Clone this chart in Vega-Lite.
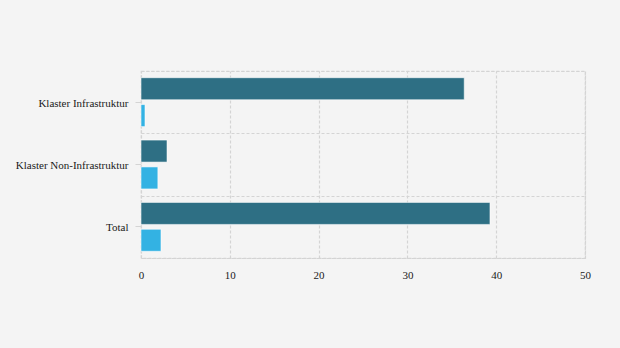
{
  "$schema": "https://vega.github.io/schema/vega-lite/v6.json",
  "width": 444,
  "height": 187,
  "autosize": {"type": "none"},
  "padding": {"left": 141, "top": 71, "right": 35, "bottom": 90},
  "background": "#f4f4f4",
  "config": {
    "view": {"stroke": "#d4d4d4", "strokeDash": [3, 2], "strokeWidth": 1.2},
    "font": "Liberation Serif"
  },
  "data": {
    "values": [
      {"kategori": "Klaster Infrastruktur", "seri": "Seri 1", "nilai": 36.4},
      {"kategori": "Klaster Infrastruktur", "seri": "Seri 2", "nilai": 0.45},
      {"kategori": "Klaster Non-Infrastruktur", "seri": "Seri 1", "nilai": 2.93},
      {"kategori": "Klaster Non-Infrastruktur", "seri": "Seri 2", "nilai": 1.9},
      {"kategori": "Total", "seri": "Seri 1", "nilai": 39.3},
      {"kategori": "Total", "seri": "Seri 2", "nilai": 2.25}
    ]
  },
  "layer": [
    {
      "mark": {"type": "bar", "opacity": 0},
      "encoding": {
        "y": {
          "field": "kategori", "type": "nominal", "sort": null,
          "scale": {"paddingInner": 0, "paddingOuter": 0},
          "axis": {"orient": "left", "labels": false, "ticks": false, "domain": false, "grid": true, "tickBand": "extent", "gridColor": "#d4d4d4", "gridDash": [3, 2], "gridWidth": 1.2, "title": null}
        },
        "x": {"field": "nilai", "type": "quantitative", "stack": null, "scale": {"domain": [0, 50], "nice": false}}
      }
    },
    {
      "mark": {"type": "bar", "stroke": "#ffffff", "strokeWidth": 0.8, "strokeOpacity": 0.7},
      "encoding": {
        "y": {
          "field": "kategori", "type": "nominal", "sort": null,
          "scale": {"paddingInner": 0, "paddingOuter": 0},
          "axis": {"orient": "left", "grid": false, "domain": false, "ticks": true, "tickSize": 6, "tickColor": "#d4d4d4", "labelPadding": 7, "labelOffset": 1.5, "labelFont": "Liberation Serif", "labelFontSize": 11, "labelColor": "#1a1a1a", "title": null}
        },
        "x": {
          "field": "nilai", "type": "quantitative", "stack": null,
          "scale": {"domain": [0, 50], "nice": false},
          "axis": {"values": [0, 10, 20, 30, 40, 50], "labelFlush": false, "grid": true, "gridColor": "#d4d4d4", "gridDash": [3, 2], "gridWidth": 1.2, "ticks": false, "domain": false, "labelPadding": 11, "labelFont": "Liberation Serif", "labelFontSize": 11, "labelColor": "#1a1a1a", "title": null}
        },
        "yOffset": {"field": "seri", "type": "nominal", "scale": {"paddingInner": 0.18, "paddingOuter": 0.25}},
        "color": {"field": "seri", "type": "nominal", "scale": {"domain": ["Seri 1", "Seri 2"], "range": ["#2e6f84", "#33b2e3"]}, "legend": null}
      }
    }
  ],
  "resolve": {"axis": {"y": "independent"}}
}
